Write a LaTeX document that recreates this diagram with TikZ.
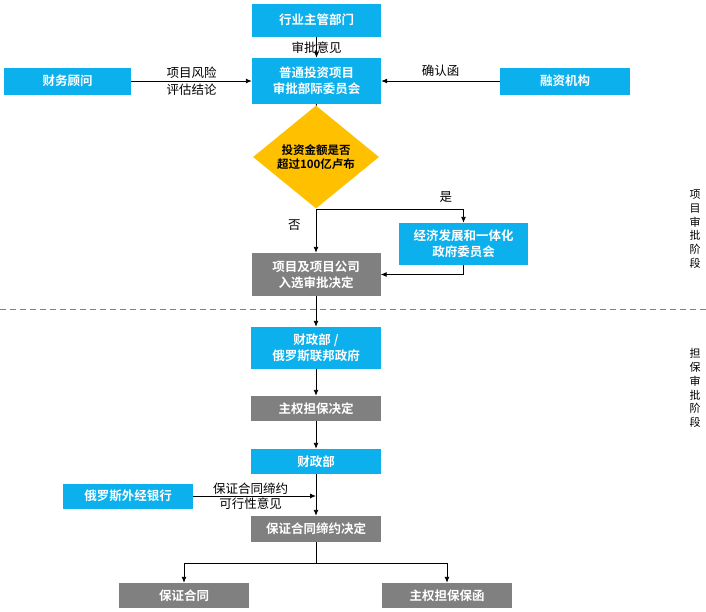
\documentclass[tikz,border=0pt]{standalone}
\usepackage{fontspec}
\setmainfont{Noto Sans CJK SC}[BoldFont={Noto Sans CJK SC Bold}]
\usetikzlibrary{shapes.geometric,arrows.meta}
\definecolor{boxblue}{RGB}{12,176,236}
\definecolor{boxgray}{RGB}{128,128,128}
\definecolor{diayellow}{RGB}{255,192,0}

\begin{document}
\begin{tikzpicture}[x=1pt,y=-1pt,
    bluebox/.style={rectangle,fill=boxblue,text=white,inner sep=0pt,font=\fontsize{12.5}{16}\selectfont\bfseries,align=center,minimum width=129pt},
    graybox/.style={rectangle,fill=boxgray,text=white,inner sep=0pt,font=\fontsize{12.5}{16}\selectfont\bfseries,align=center,minimum width=129pt},
    lbl/.style={font=\fontsize{12.5}{15.5}\selectfont,align=center,inner sep=1pt},
    flow/.style={line width=0.9pt,black},
    arr/.style={flow,-{Latex[length=6pt,width=5pt]}}]
    \useasboundingbox (0,0) rectangle (706,611);

    % Nodes
    \node (dept) at (316.5,20) [bluebox,minimum height=33pt] {行业主管部门};
    \node (cmte) at (316.5,81) [bluebox,minimum height=46pt] {普通投资项目\\审批部际委员会};
    \node (advisor) at (67.5,81) [bluebox,minimum width=127pt,minimum height=27pt] {财务顾问};
    \node (financier) at (565,81) [bluebox,minimum width=130pt,minimum height=27pt] {融资机构};
    \node (limit) at (316,157) [diamond,fill=diayellow,inner sep=0pt,minimum width=126pt,minimum height=78pt,font=\fontsize{11.5}{14}\selectfont\bfseries,align=center] {投资金额是否\\超过100亿卢布};
    \node (econ) at (463.5,244) [bluebox,minimum height=42pt] {经济发展和一体化\\政府委员会};
    \node (select) at (316,274.5) [graybox,minimum height=43pt] {项目及项目公司\\入选审批决定};
    \node (mofgov) at (316,348) [bluebox,minimum width=130pt,minimum height=42pt] {财政部 /\\俄罗斯联邦政府};
    \node (sovdec) at (316,408.5) [graybox,minimum width=130pt,minimum height=25pt] {主权担保决定};
    \node (mof) at (316,461.5) [bluebox,minimum width=130pt,minimum height=25pt] {财政部};
    \node (veb) at (128,496) [bluebox,minimum width=130pt,minimum height=25pt] {俄罗斯外经银行};
    \node (gcdec) at (316,529) [graybox,minimum width=130pt,minimum height=26pt] {保证合同缔约决定};
    \node (gc) at (184,595.5) [graybox,minimum width=130pt,minimum height=25pt] {保证合同};
    \node (sovlet) at (447,595.5) [graybox,minimum width=130pt,minimum height=25pt] {主权担保保函};

    % Stage labels and divider
    \node (stage1) at (695,229) [lbl,font=\fontsize{11}{13.7}\selectfont] {项\\目\\审\\批\\阶\\段};
    \node (stage2) at (695,388) [lbl,font=\fontsize{11}{13.7}\selectfont] {担\\保\\审\\批\\阶\\段};
    \draw[boxgray,line width=1pt,dash pattern=on 6pt off 4pt] (0,309) -- (706,309);

    % Branch points
    \coordinate (split) at (316,209);
    \coordinate (join) at (316,496);
    \coordinate (fork) at (316,563);

    % Edges
    \draw[arr] (dept) -- (cmte) node[midway,lbl] {审批意见};
    \draw[arr] (advisor) -- (cmte) node[midway,lbl] {项目风险\\[1pt]评估结论};
    \draw[arr] (financier) -- (cmte) node[midway,lbl,above=3pt] {确认函};
    \draw[flow] (cmte) -- (limit);
    \draw[arr] (limit) -- (select) node[pos=0.37,lbl,left=14pt] {否};
    \draw[arr] (split) -| (econ) node[pos=0.44,lbl,above=5pt] {是};
    \draw[arr] (econ) |- (select);
    \draw[arr] (select) -- (mofgov);
    \draw[arr] (mofgov) -- (sovdec);
    \draw[arr] (sovdec) -- (mof);
    \draw[arr] (mof) -- (gcdec);
    \draw[arr] (veb) -- (join) node[midway,lbl,xshift=-4pt] {保证合同缔约\\可行性意见};
    \draw[flow] (gcdec) -- (fork);
    \draw[arr] (fork) -| (gc);
    \draw[arr] (fork) -| (sovlet);
\end{tikzpicture}
\end{document}
